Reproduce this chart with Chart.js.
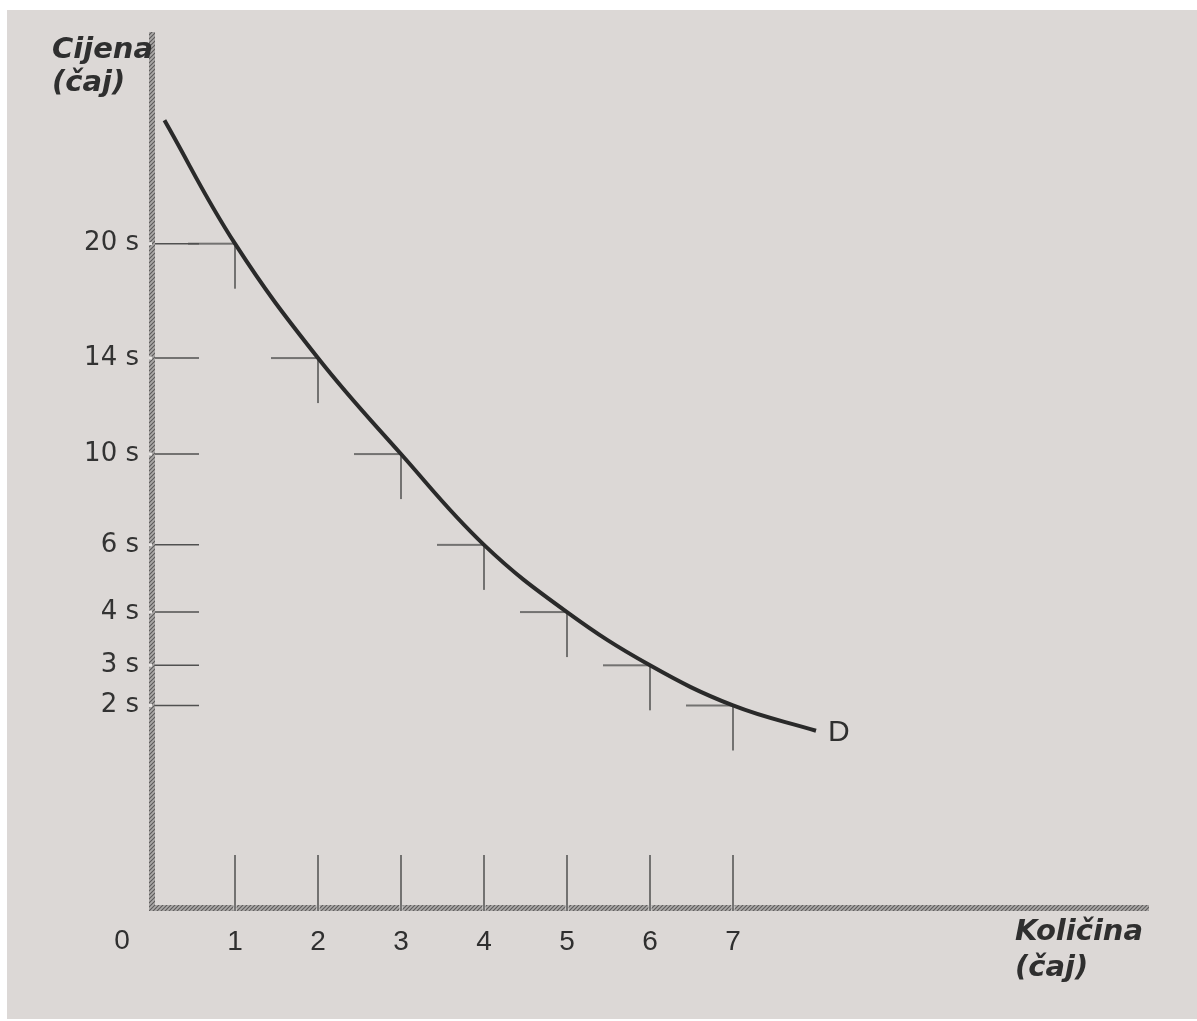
<!DOCTYPE html>
<html>
<head>
<meta charset="utf-8">
<title>Krivulja potražnje – čaj</title>
<script src="https://cdn.jsdelivr.net/npm/chart.js@4.4.1/dist/chart.umd.min.js"></script>
<style>
    html, body { margin: 0; padding: 0; background: #ffffff; }
    #paper { position: absolute; left: 7px; top: 10px; width: 1190px; height: 1009px; background: #dcd8d6; }
    #wrap { position: absolute; left: 0; top: 0; width: 1197px; height: 1021px; }
</style>
</head>
<body>
<div id="paper"></div>
<div id="wrap"><canvas id="demandChart"></canvas></div>
<script>
// demand curve D (quantity of tea -> price)
const quantities = [0.15, 1, 2, 3, 4, 5, 6, 7, 8];
const prices = [26.5, 20, 14, 10, 6, 4, 3, 2, 1.75];
const quantityTicks = [1, 2, 3, 4, 5, 6, 7];
const priceTicks = [20, 14, 10, 6, 4, 3, 2];
const curveLabel = 'D';
const yTitle = ['Cijena', '(čaj)'];
const xTitle = ['Količina', '(čaj)'];

// the price axis in the book is not linear - the scale bends through these stops
const yStops = [[0, 0], [2, 0.232], [3, 0.278], [4, 0.339], [6, 0.416], [10, 0.52], [14, 0.63], [20, 0.761], [31, 1]];

function priceToDecimal(v) {
    for (let i = 1; i < yStops.length; i++) {
        const [v0, d0] = yStops[i - 1];
        const [v1, d1] = yStops[i];
        if (v <= v1 || i === yStops.length - 1) {
            return d0 + (v - v0) * (d1 - d0) / (v1 - v0);
        }
    }
}

function decimalToPrice(d) {
    for (let i = 1; i < yStops.length; i++) {
        const [v0, d0] = yStops[i - 1];
        const [v1, d1] = yStops[i];
        if (d <= d1 || i === yStops.length - 1) {
            return v0 + (d - d0) * (v1 - v0) / (d1 - d0);
        }
    }
}

class PriceScale extends Chart.LinearScale {
    getPixelForValue(value) {
        return this.getPixelForDecimal(priceToDecimal(value));
    }
    getValueForPixel(pixel) {
        return decimalToPrice(this.getDecimalForPixel(pixel));
    }
}
PriceScale.id = 'price';
PriceScale.defaults = Chart.LinearScale.defaults;
Chart.register(PriceScale);

const canvas = document.getElementById('demandChart');
const ctx = canvas.getContext('2d');

// hatched grey for the thick axes
function axisPattern() {
    const c = document.createElement('canvas');
    c.width = 4; c.height = 4;
    const g = c.getContext('2d');
    g.fillStyle = '#acaaa9';
    g.fillRect(0, 0, 4, 4);
    g.strokeStyle = '#5c5a5a';
    g.lineWidth = 1.1;
    g.beginPath();
    g.moveTo(0, 4); g.lineTo(4, 0);
    g.moveTo(-1, 1); g.lineTo(1, -1);
    g.moveTo(3, 5); g.lineTo(5, 3);
    g.stroke();
    return ctx.createPattern(c, 'repeat');
}
const hatch = axisPattern();

// the little corner drawn at each point of the curve (line left, line down)
function stepMark() {
    const c = document.createElement('canvas');
    c.width = 96; c.height = 92;
    const g = c.getContext('2d');
    g.strokeStyle = '#505050';
    g.lineWidth = 1.5;
    g.beginPath();
    g.moveTo(1, 46); g.lineTo(48, 46);
    g.moveTo(48, 46); g.lineTo(48, 91);
    g.stroke();
    return c;
}

const curve = quantities.map((q, i) => ({ x: q, y: prices[i] }));
const steps = curve.filter(p => quantityTicks.includes(p.x));

const bookMarks = {
    id: 'bookMarks',
    beforeDatasetsDraw(chart) {
        const { ctx, chartArea, scales: { x, y } } = chart;
        ctx.save();
        // small gaps where the ticks meet the axes
        ctx.fillStyle = '#e6e3e1';
        x.ticks.forEach(t => {
            const px = x.getPixelForValue(t.value);
            ctx.fillRect(px - 1.5, chartArea.bottom - 3, 3, 6);
        });
        y.ticks.forEach(t => {
            const py = y.getPixelForValue(t.value);
            ctx.fillRect(chartArea.left - 3, py - 1.5, 3, 3);
        });
        ctx.strokeStyle = '#505050';
        ctx.lineWidth = 1.5;
        ctx.beginPath();
        y.ticks.forEach(t => {
            const py = y.getPixelForValue(t.value);
            ctx.moveTo(chartArea.left + 3, py);
            ctx.lineTo(chartArea.left + 47, py);
        });
        x.ticks.forEach(t => {
            const px = x.getPixelForValue(t.value);
            ctx.moveTo(px, chartArea.bottom + 3);
            ctx.lineTo(px, chartArea.bottom - 53);
        });
        ctx.stroke();
        ctx.restore();
    },
    afterDraw(chart) {
        const { ctx, chartArea } = chart;
        ctx.save();
        ctx.fillStyle = '#2f2f2f';
        ctx.textAlign = 'left';
        ctx.textBaseline = 'middle';
        ctx.font = 'italic bold 29px "DejaVu Sans"';
        ctx.fillText(yTitle[0], chartArea.left - 100, chartArea.top + 15);
        ctx.fillText(yTitle[1], chartArea.left - 100, chartArea.top + 48);
        ctx.fillText(xTitle[0], chartArea.right - 133, chartArea.bottom + 24);
        ctx.fillText(xTitle[1], chartArea.right - 133, chartArea.bottom + 60);

        ctx.font = '28px "Liberation Sans"';
        ctx.textAlign = 'center';
        ctx.fillText('0', chartArea.left - 30, chartArea.bottom + 33);

        const meta = chart.getDatasetMeta(0);
        const last = meta.data[meta.data.length - 1];
        ctx.font = '30px "Liberation Sans"';
        ctx.textAlign = 'left';
        ctx.fillText(curveLabel, last.x + 12, last.y + 2);
        ctx.restore();
    }
};

new Chart(ctx, {
    type: 'scatter',
    data: {
        datasets: [
            {
                label: curveLabel,
                data: curve,
                showLine: true,
                borderColor: '#2a2a2a',
                borderWidth: 4,
                tension: 0.4,
                pointRadius: 0,
                order: 0,
                clip: false
            },
            {
                label: 'steps',
                data: steps,
                showLine: false,
                pointStyle: stepMark(),
                pointRadius: 10,
                order: 1,
                clip: false
            }
        ]
    },
    options: {
        responsive: true,
        maintainAspectRatio: false,
        animation: false,
        events: [],
        layout: { padding: { top: 35, right: 49, left: 0, bottom: 0 } },
        plugins: {
            legend: { display: false },
            tooltip: { enabled: false }
        },
        scales: {
            x: {
                type: 'linear',
                min: 0,
                max: 12,
                grid: { display: false },
                border: { color: hatch, width: 6 },
                afterBuildTicks: s => { s.ticks = quantityTicks.map(v => ({ value: v })); },
                afterFit: s => { s.height = 113; },
                ticks: {
                    color: '#2f2f2f',
                    font: { family: 'Liberation Sans', size: 28 },
                    padding: 9,
                    autoSkip: false,
                    maxRotation: 0
                }
            },
            y: {
                type: 'price',
                min: 0,
                max: 31,
                grid: { display: false },
                border: { color: hatch, width: 6 },
                afterBuildTicks: s => { s.ticks = priceTicks.map(v => ({ value: v })); },
                afterFit: s => { s.width = 152; },
                ticks: {
                    color: '#333333',
                    font: { family: 'DejaVu Sans', size: 26 },
                    padding: 5,
                    autoSkip: false,
                    callback: v => v + ' s'
                }
            }
        }
    },
    plugins: [bookMarks]
});
</script>
</body>
</html>
